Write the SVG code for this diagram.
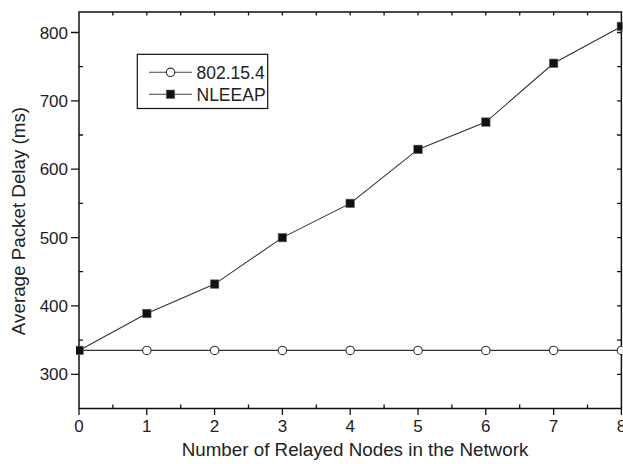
<svg xmlns="http://www.w3.org/2000/svg" width="623" height="464" viewBox="0 0 623 464">
<style>
text{font-family:"Liberation Sans",Arial,sans-serif;fill:#222;}
.tk{font-size:17px;}
.tl{font-size:18.8px;}
.lg{font-size:17.5px;}
.ax{stroke:#111;stroke-width:1.5;fill:none;}
.tick{stroke:#111;stroke-width:1.3;fill:none;}
.ser{stroke:#333;stroke-width:1.1;fill:none;}
.sq{fill:#111;stroke:#777;stroke-width:0.6;}
.ci{fill:#fff;stroke:#333;stroke-width:1.1;}
</style>
<defs>
<clipPath id="plot"><rect x="76" y="11" width="546.5" height="398"/></clipPath>
<rect id="sqm" x="-4.3" y="-4.3" width="8.6" height="8.6" class="sq"/>
<circle id="cim" r="4.2" class="ci"/>
</defs>
<rect width="623" height="464" fill="#fff"/>
<g id="axes">
<rect x="79" y="12" width="542.4" height="396.5" class="ax"/>
<g class="tick">
<path d="M71 32.5H79M71 100.9H79M71 169.2H79M71 237.6H79M71 305.9H79M71 374.3H79"/>
<path d="M79 66.7H83M79 135H83M79 203.4H83M79 271.7H83M79 340.1H83"/>
<path d="M621.4 32.5H617M621.4 66.7H617M621.4 100.9H617M621.4 135H617M621.4 169.2H617M621.4 203.4H617M621.4 237.6H617M621.4 271.7H617M621.4 305.9H617M621.4 340.1H617M621.4 374.3H617"/>
<path d="M79 408.5V415M146.8 408.5V415M214.6 408.5V415M282.4 408.5V415M350.2 408.5V415M418 408.5V415M485.8 408.5V415M553.6 408.5V415M621.4 408.5V415"/>
<path d="M112.9 408.5V404.5M180.7 408.5V404.5M248.5 408.5V404.5M316.3 408.5V404.5M384.1 408.5V404.5M451.9 408.5V404.5M519.7 408.5V404.5M587.5 408.5V404.5"/>
<path d="M112.9 12V15.5M146.8 12V15.5M180.7 12V15.5M214.6 12V15.5M248.5 12V15.5M282.4 12V15.5M316.3 12V15.5M350.2 12V15.5M384.1 12V15.5M418 12V15.5M451.9 12V15.5M485.8 12V15.5M519.7 12V15.5M553.6 12V15.5M587.5 12V15.5"/>
</g>
<g class="tk" text-anchor="end">
<text x="68" y="38.5">800</text>
<text x="68" y="106.9">700</text>
<text x="68" y="175.2">600</text>
<text x="68" y="243.6">500</text>
<text x="68" y="311.9">400</text>
<text x="68" y="380.3">300</text>
</g>
<g class="tk" text-anchor="middle">
<text x="79" y="431.5">0</text>
<text x="146.8" y="431.5">1</text>
<text x="214.6" y="431.5">2</text>
<text x="282.4" y="431.5">3</text>
<text x="350.2" y="431.5">4</text>
<text x="418" y="431.5">5</text>
<text x="485.8" y="431.5">6</text>
<text x="553.6" y="431.5">7</text>
<text x="621.4" y="431.5">8</text>
</g>
<text class="tl" x="355" y="455.5" text-anchor="middle">Number of Relayed Nodes in the Network</text>
<text class="tl" transform="translate(25 221) rotate(-90)" text-anchor="middle">Average Packet Delay (ms)</text>
</g>
<g id="connectors" clip-path="url(#plot)">
<polyline class="ser" points="79,350.4 146.8,350.4 214.6,350.4 282.4,350.4 350.2,350.4 418,350.4 485.8,350.4 553.6,350.4 621.4,350.4"/>
<polyline class="ser" points="79,350.4 146.8,313.5 214.6,284.1 282.4,237.6 350.2,203.4 418,149.4 485.8,122.1 553.6,63.3 621.4,26.4"/>
</g>
<g id="series-802154" clip-path="url(#plot)">
<use href="#cim" x="79" y="350.4"/>
<use href="#cim" x="146.8" y="350.4"/>
<use href="#cim" x="214.6" y="350.4"/>
<use href="#cim" x="282.4" y="350.4"/>
<use href="#cim" x="350.2" y="350.4"/>
<use href="#cim" x="418" y="350.4"/>
<use href="#cim" x="485.8" y="350.4"/>
<use href="#cim" x="553.6" y="350.4"/>
<use href="#cim" x="621.4" y="350.4"/>
</g>
<g id="series-nleeap" clip-path="url(#plot)">
<use href="#sqm" x="79" y="350.4"/>
<use href="#sqm" x="146.8" y="313.5"/>
<use href="#sqm" x="214.6" y="284.1"/>
<use href="#sqm" x="282.4" y="237.6"/>
<use href="#sqm" x="350.2" y="203.4"/>
<use href="#sqm" x="418" y="149.4"/>
<use href="#sqm" x="485.8" y="122.1"/>
<use href="#sqm" x="553.6" y="63.3"/>
<use href="#sqm" x="621.4" y="26.4"/>
</g>
<g id="legend">
<rect x="137.3" y="54.3" width="130.4" height="54.2" fill="#fff" stroke="#111" stroke-width="1.2"/>
<path d="M149 72.3H192M149 94.3H192" stroke="#444" stroke-width="1.1"/>
<use href="#cim" x="170.5" y="72.3"/>
<use href="#sqm" x="170.5" y="94.3"/>
<text class="lg" x="196.5" y="78.5">802.15.4</text>
<text class="lg" x="196.5" y="100.5">NLEEAP</text>
</g>
</svg>
